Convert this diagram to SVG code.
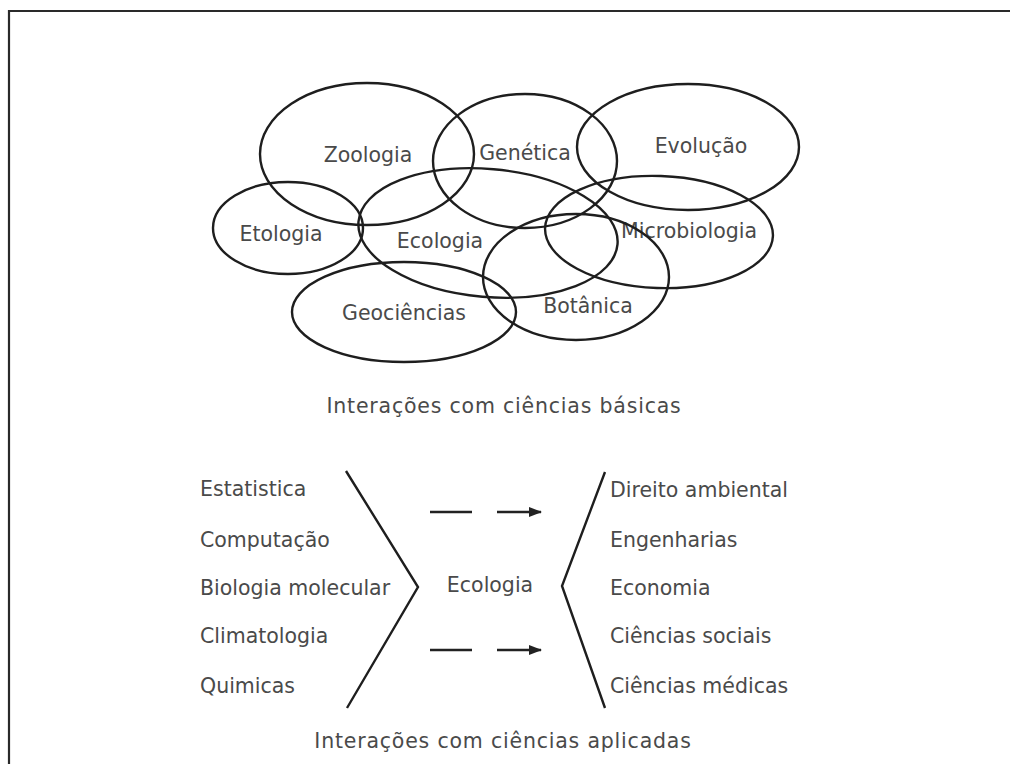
<svg xmlns="http://www.w3.org/2000/svg" width="1010" height="764" viewBox="0 0 1010 764">
<defs>
<style>
.e{fill:none;stroke:#1e1e1e;stroke-width:2.4}
.t{font-family:"DejaVu Sans",sans-serif;font-size:20.5px;fill:#4a4a4a}
.m{text-anchor:middle}
.l{fill:none;stroke:#1e1e1e;stroke-width:2.4;stroke-linejoin:miter}
.a{fill:none;stroke:#222;stroke-width:2.4}
</style>
<marker id="ah" markerWidth="13" markerHeight="12" refX="12" refY="6" orient="auto" markerUnits="userSpaceOnUse">
<path d="M0,1 L13,6 L0,11 Z" fill="#222"/>
</marker>
</defs>
<rect x="0" y="0" width="1010" height="764" fill="#fff"/>
<path d="M9,764 L9,11 L1010,11" fill="none" stroke="#2a2a2a" stroke-width="2.2"/>

<g id="zoologia"><ellipse class="e" cx="367" cy="154" rx="107" ry="71"/><text class="t m" x="368" y="162">Zoologia</text></g>
<g id="genetica"><ellipse class="e" cx="525" cy="161" rx="92" ry="67"/><text class="t m" x="525" y="160">Genética</text></g>
<g id="evolucao"><ellipse class="e" cx="688" cy="147" rx="111" ry="63"/><text class="t m" x="701" y="153">Evolução</text></g>
<g id="etologia"><ellipse class="e" cx="288" cy="228" rx="75" ry="46"/><text class="t m" x="281" y="241">Etologia</text></g>
<g id="ecologia"><ellipse class="e" cx="488" cy="233" rx="130" ry="64" transform="rotate(5 488 233)"/><text class="t m" x="440" y="248">Ecologia</text></g>
<g id="microbiologia"><ellipse class="e" cx="659" cy="232" rx="114" ry="56" transform="rotate(2 659 232)"/><text class="t m" x="689" y="238">Microbiologia</text></g>
<g id="botanica"><ellipse class="e" cx="576" cy="277" rx="93" ry="63"/><text class="t m" x="588" y="313">Botânica</text></g>
<g id="geociencias"><ellipse class="e" cx="404" cy="312" rx="112" ry="50"/><text class="t m" x="404" y="320">Geociências</text></g>

<g id="caption1"><text class="t m" x="504" y="413" letter-spacing="0.8">Interações com ciências básicas</text></g>

<g id="basic-left">
<text class="t" x="200" y="496">Estatistica</text>
<text class="t" x="200" y="547">Computação</text>
<text class="t" x="200" y="595">Biologia molecular</text>
<text class="t" x="200" y="643">Climatologia</text>
<text class="t" x="200" y="693">Quimicas</text>
</g>
<g id="ecologia-center"><text class="t m" x="490" y="592">Ecologia</text></g>
<g id="applied-right">
<text class="t" x="610" y="497">Direito ambiental</text>
<text class="t" x="610" y="547">Engenharias</text>
<text class="t" x="610" y="595">Economia</text>
<text class="t" x="610" y="643">Ciências sociais</text>
<text class="t" x="610" y="693">Ciências médicas</text>
</g>

<g id="connectors">
<path class="l" d="M346,471 L418,587 L347,708"/>
<path class="l" d="M605,472 L562,586 L605,708"/>
<line class="a" x1="430" y1="512" x2="472" y2="512"/>
<line class="a" x1="497" y1="512" x2="541" y2="512" marker-end="url(#ah)"/>
<line class="a" x1="430" y1="650" x2="472" y2="650"/>
<line class="a" x1="497" y1="650" x2="541" y2="650" marker-end="url(#ah)"/>
</g>

<g id="caption2"><text class="t m" x="503" y="748" letter-spacing="0.8">Interações com ciências aplicadas</text></g>
</svg>
